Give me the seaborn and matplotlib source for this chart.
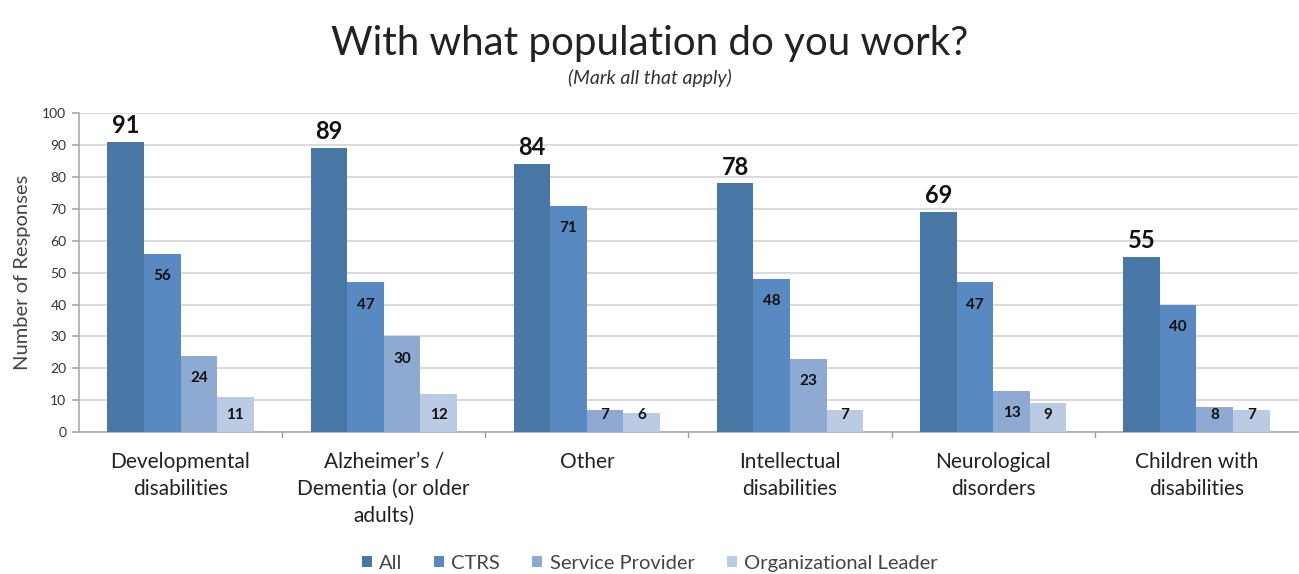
import matplotlib
matplotlib.use("Agg")
import matplotlib.pyplot as plt
import seaborn as sns
import pandas as pd
import numpy as np

categories = ["Developmental\ndisabilities", "Alzheimer\u2019s /\nDementia (or older\nadults)", "Other",
              "Intellectual\ndisabilities", "Neurological\ndisorders", "Children with\ndisabilities"]
series_names = ["All", "CTRS", "Service Provider", "Organizational Leader"]
all_vals = [91, 89, 84, 78, 69, 55]
ctrs_vals = [56, 47, 71, 48, 47, 40]
service_vals = [24, 30, 7, 23, 13, 8]
leader_vals = [11, 12, 6, 7, 9, 7]
yticks = list(range(0, 101, 10))

colors = ["#4877a6", "#5889c0", "#8eaad2", "#bccbe4"]

rows = []
for s, vals in zip(series_names, [all_vals, ctrs_vals, service_vals, leader_vals]):
    for c, v in zip(categories, vals):
        rows.append({"Category": c, "Series": s, "Value": v})
df = pd.DataFrame(rows)

sns.set_theme(style="white")
plt.rcParams['font.family'] = ['Lato', 'DejaVu Sans']

fig = plt.figure(figsize=(12.99, 5.74), dpi=100)
ax = fig.add_axes([0.0608, 0.247, 0.9384, 0.556])

sns.barplot(data=df, x="Category", y="Value", hue="Series", palette=colors,
            width=0.72, saturation=1, ax=ax, legend=True, zorder=3, linewidth=0)

ax.set_ylim(0, 100)
ax.set_xlim(-0.5, len(categories) - 0.5)
ax.set_yticks(yticks)
ax.set_yticklabels([str(t) for t in yticks], fontsize=10, color="#333333")
ax.yaxis.grid(True, color="#d4d4d4", linewidth=1.2, zorder=0)
ax.set_axisbelow(True)
ax.set_ylabel("Number of Responses", fontsize=14.5, color="#444444", labelpad=8)
ax.set_xlabel("")
ax.tick_params(axis="y", length=5, color="#aaaaaa", direction="out", left=True, pad=4)
ax.set_xticks(range(len(categories)))
ax.set_xticklabels(categories, fontsize=15, color="#222222", va="top", linespacing=1.45)
ax.tick_params(axis="x", length=0, pad=14)
for x in np.arange(0.5, len(categories) - 0.5, 1.0):
    ax.plot([x, x], [0, -1.5], color="#999999", lw=1, clip_on=False)
for sp in ["top", "right"]:
    ax.spines[sp].set_visible(False)
ax.spines["left"].set_color("#aaaaaa")
ax.spines["bottom"].set_color("#aaaaaa")
ax.spines["left"].set_linewidth(1.2)
ax.spines["bottom"].set_linewidth(1.2)

for ci, container in enumerate(ax.containers):
    for bar in container:
        v = bar.get_height()
        xc = bar.get_x() + bar.get_width() / 2
        if ci == 0:
            ax.text(xc, v + 1.5, f"{int(v)}", ha="center", va="bottom", fontsize=17,
                    fontweight="bold", color="#111111")
        else:
            ax.text(xc, max(v - 7, 5.5), f"{int(v)}", ha="center", va="center", fontsize=11,
                    fontweight="bold", color="#111111")

handles, labels = ax.get_legend_handles_labels()
ax.get_legend().remove()
leg = fig.legend(handles, labels, loc="center", bbox_to_anchor=(0.5, 0.019), ncol=4, frameon=False,
                 fontsize=14.5, handlelength=0.5, handleheight=0.5, handletextpad=0.35,
                 columnspacing=1.6)
for t in leg.get_texts():
    t.set_color("#444444")

fig.text(0.5, 0.924, "With what population do you work?", ha="center", va="center",
         fontsize=29, color="#222222")
fig.text(0.5, 0.864, "(Mark all that apply)", ha="center", va="center",
         fontsize=14, style="italic", color="#333333")

fig.savefig("out.png", dpi=100)
